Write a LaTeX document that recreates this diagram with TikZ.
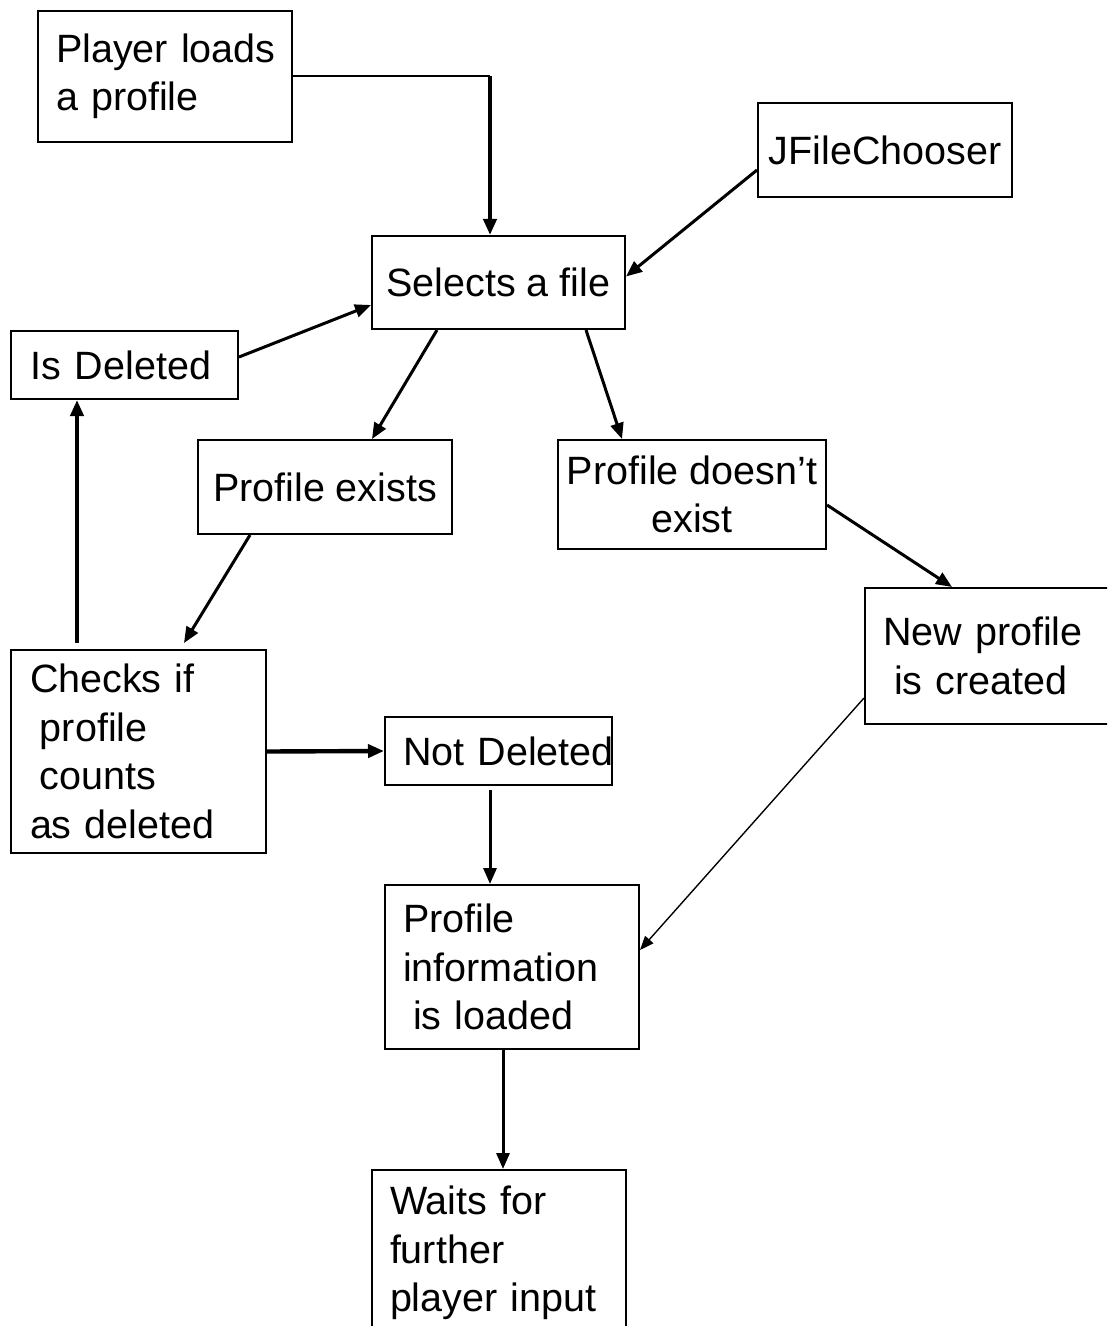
\documentclass[tikz,border=0pt]{standalone}
\usepackage{fontspec}
\setmainfont{Liberation Sans}
\usetikzlibrary{arrows.meta,calc}

\begin{document}
\begin{tikzpicture}[x=0.5pt,y=-0.5pt,
  box/.style={draw, line width=1pt, rectangle, anchor=north west,
    inner ysep=0pt, font=\fontsize{19.75pt}{24.25pt}\selectfont},
  lbox/.style={box, align=left},
  cbox/.style={box, align=center, inner xsep=0pt},
  tip/.style={-{Triangle[length=8pt,width=6.5pt]}},
  arr/.style={tip, line width=1.5pt},
  heavy/.style={tip, line width=2.2pt},
  slim/.style={-{Triangle[length=7pt,width=5.5pt]}, line width=0.7pt},
]
\useasboundingbox (0,0) rectangle (1107,1326);
\clip (0,0) rectangle (1107,1326);

% process boxes
\node[lbox, minimum width=127pt, minimum height=65.5pt, inner xsep=9pt, text width=109pt]
  (player) at (37,10) {\mbox{Player loads}\\\mbox{a profile}};
\node[cbox, minimum width=127pt, minimum height=47pt]
  (chooser) at (757,102) {JFileChooser};
\node[cbox, minimum width=126.5pt, minimum height=46.5pt]
  (select) at (371,235) {Selects a file};
\node[lbox, minimum width=113.5pt, minimum height=34pt, inner xsep=10pt, text width=93.5pt]
  (isdel) at (10,330) {\mbox{Is Deleted}};
\node[cbox, minimum width=127pt, minimum height=47pt]
  (exists) at (197,439) {Profile exists};
\node[cbox, minimum width=134pt, minimum height=54.5pt]
  (notexist) at (557,439) {Profile doesn’t\\exist};
\node[lbox, minimum width=124pt, minimum height=68pt, inner xsep=9pt, text width=106pt]
  (newprof) at (864,587) {\mbox{New profile}\\\hspace*{5.5pt}\mbox{is created}};
\node[lbox, minimum width=127.5pt, minimum height=101.5pt, inner xsep=9.5pt, text width=108.5pt]
  (checks) at (10,649) {\mbox{Checks if}\\\hspace*{5pt}profile\\\hspace*{5pt}counts\\\mbox{as deleted}};
\node[lbox, minimum width=113.5pt, minimum height=34pt, inner xsep=9pt, text width=95.5pt]
  (notdel) at (384,716) {\mbox{Not Deleted}};
\node[lbox, minimum width=127pt, minimum height=82pt, inner xsep=9pt, text width=109pt]
  (info) at (384,884) {Profile\\information\\\hspace*{5pt}\mbox{is loaded}};
\node[lbox, minimum width=127pt, minimum height=83pt, inner xsep=9pt, text width=109pt]
  (waits) at (371,1169) {\mbox{Waits for}\\further\\\mbox{player input}};

% attachment points on the box borders
\coordinate (selTop)   at ($(select.north west)+(119,0)$);
\coordinate (selRight) at ($(select.east)+(0,-6)$);
\coordinate (selLeft)  at ($(select.west)+(0,22.5)$);
\coordinate (selBotL)  at ($(select.south west)+(66,0)$);
\coordinate (selBotR)  at ($(select.south east)+(-40,0)$);
\coordinate (chOut)    at ($(chooser.south west)+(0,-28)$);
\coordinate (delOut)   at ($(isdel.east)+(0,-8)$);
\coordinate (delIn)    at ($(isdel.south west)+(67,0)$);
\coordinate (exIn)     at ($(exists.north west)+(175,0)$);
\coordinate (exOut)    at ($(exists.south west)+(53,0)$);
\coordinate (nxIn)     at ($(notexist.north west)+(65,0)$);
\coordinate (nxOut)    at ($(notexist.north east)+(0,66)$);
\coordinate (npIn)     at ($(newprof.north west)+(88,0)$);
\coordinate (npOut)    at ($(newprof.south west)+(0,-27)$);
\coordinate (ckIn)     at ($(checks.north west)+(174,-6)$);
\coordinate (ckUp)     at ($(checks.north west)+(67,-6)$);
\coordinate (ndOut)    at ($(notdel.south west)+(106,4)$);
\coordinate (infIn)    at ($(info.north west)+(106,0)$);
\coordinate (infSide)  at ($(info.north east)+(0,66)$);
\coordinate (infOut)   at ($(info.south west)+(119,0)$);
\coordinate (waitIn)   at ($(waits.north west)+(132,0)$);

% connectors
\draw[line width=1pt] (player.east) -- (player.east -| selTop);
\draw[tip, line width=2pt] (player.east -| selTop) -- (selTop);
\draw[arr] (chOut) -- (selRight);
\draw[arr] (delOut) -- (selLeft);
\draw[arr] (selBotL) -- (exIn);
\draw[arr] (selBotR) -- (nxIn);
\draw[arr] (exOut) -- (ckIn);
\draw[heavy] (ckUp) -- (delIn);
\draw[heavy] (checks.east) -- (notdel.west);
\draw[arr] (ndOut) -- (infIn);
\draw[arr] (nxOut) -- (npIn);
\draw[slim] (npOut) -- (infSide);
\draw[arr] (infOut) -- (waitIn);
\end{tikzpicture}
\end{document}
